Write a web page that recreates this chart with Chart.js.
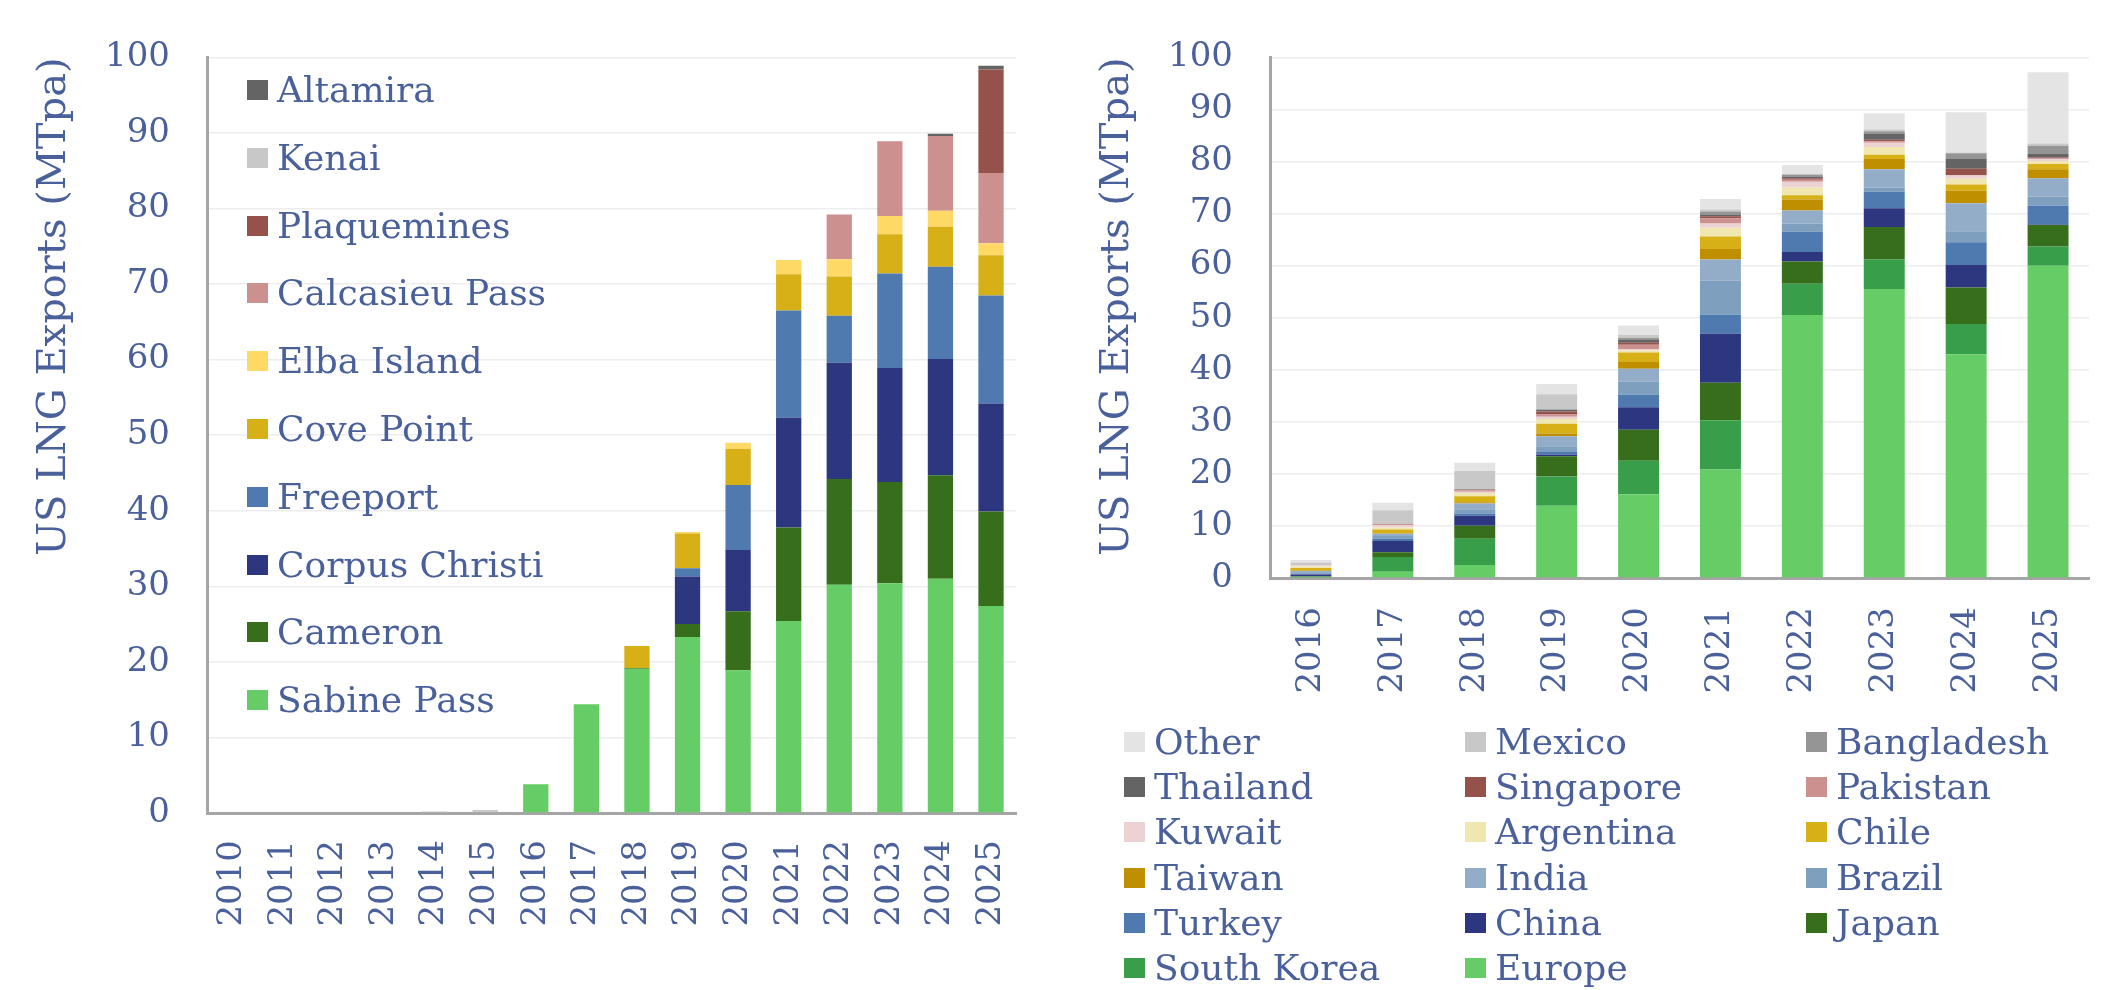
<!DOCTYPE html>
<html lang="en">
  <head>
    <meta charset="UTF-8" />
    <title>US LNG Exports</title>
    <script src="https://cdn.jsdelivr.net/npm/chart.js"></script>
    <style>
      body { margin: 0; background: #fff; }
      #page { position: relative; width: 2119px; height: 990px; overflow: hidden; }
      .legend-text {
        position: absolute;
        font-family: "DejaVu Serif", serif;
        font-size: 36px;
        line-height: 40px;
        color: #4a609b;
        white-space: nowrap;
      }
      .legend-box { position: absolute; width: 21px; height: 20px; }
    </style>
  </head>
  <body>
    <div id="page">
      <canvas id="terminalCanvas" width="1060" height="990" style="position:absolute;left:0;top:0"></canvas>
      <canvas id="destCanvas" width="1059" height="990" style="position:absolute;left:1060px;top:0"></canvas>
      <div id="terminalLegend"></div>
      <div id="destLegend"></div>
    </div>
    <script>
      // ---- left chart: exports by terminal (MTpa) ----
      const terminalYears = ["2010", "2011", "2012", "2013", "2014", "2015", "2016", "2017",
                             "2018", "2019", "2020", "2021", "2022", "2023", "2024", "2025"];
      const sabinePass    = [0, 0, 0, 0, 0, 0, 3.8, 14.4, 19.1, 23.3, 18.9, 25.4, 30.2, 30.4, 31.0, 27.4];
      const cameron       = [0, 0, 0, 0, 0, 0, 0, 0, 0.1, 1.7, 7.8, 12.4, 14.0, 13.4, 13.7, 12.5];
      const corpusChristi = [0, 0, 0, 0, 0, 0, 0, 0, 0, 6.3, 8.1, 14.5, 15.4, 15.1, 15.4, 14.3];
      const freeport      = [0, 0, 0, 0, 0, 0, 0, 0, 0, 1.1, 8.6, 14.2, 6.2, 12.5, 12.2, 14.3];
      const covePoint     = [0, 0, 0, 0, 0, 0, 0, 0, 2.9, 4.6, 4.8, 4.8, 5.2, 5.2, 5.3, 5.3];
      const elbaIsland    = [0, 0, 0, 0, 0, 0, 0, 0, 0, 0.2, 0.8, 1.9, 2.3, 2.4, 2.1, 1.6];
      const calcasieuPass = [0, 0, 0, 0, 0, 0, 0, 0, 0, 0, 0, 0, 5.9, 9.9, 9.9, 9.3];
      const plaquemines   = [0, 0, 0, 0, 0, 0, 0, 0, 0, 0, 0, 0, 0, 0, 0, 13.7];
      const kenai         = [0, 0, 0, 0, 0.2, 0.4, 0, 0, 0, 0, 0, 0, 0, 0, 0, 0];
      const altamira      = [0, 0, 0, 0, 0, 0, 0, 0, 0, 0, 0, 0, 0, 0, 0.3, 0.5];

      // ---- right chart: exports by destination (MTpa) ----
      const destYears = ["2016", "2017", "2018", "2019", "2020", "2021", "2022", "2023", "2024", "2025"];
      const europe     = [0.15, 1.2, 2.5, 13.9, 16.1, 20.9, 50.5, 55.5, 43.0, 60.0];
      const southKorea = [0.15, 2.85, 5.05, 5.6, 6.4, 9.4, 6.0, 5.7, 5.8, 3.7];
      const japan      = [0.1, 0.9, 2.5, 3.9, 6.0, 7.2, 4.3, 6.2, 7.0, 4.1];
      const china      = [0.25, 2.15, 1.9, 0.3, 4.3, 9.4, 1.8, 3.6, 4.3, 0.1];
      const turkey     = [0.2, 0.5, 0.45, 0.5, 2.4, 3.7, 3.9, 3.2, 4.4, 3.6];
      const brazil     = [0.25, 0.45, 0.8, 1.1, 2.5, 6.5, 1.6, 0.8, 2.1, 1.8];
      const india      = [0.25, 0.45, 1.1, 1.95, 2.5, 4.1, 2.5, 3.5, 5.4, 3.5];
      const taiwan     = [0.1, 0.1, 0.25, 0.5, 1.3, 2.0, 2.1, 2.0, 2.4, 1.7];
      const chile      = [0.45, 0.7, 1.15, 1.9, 1.8, 2.4, 0.8, 0.8, 1.2, 1.0];
      const argentina  = [0.3, 0.4, 0.65, 0.9, 0.4, 1.7, 1.5, 1.5, 1.1, 0.6];
      const kuwait     = [0.25, 0.45, 0.2, 0.4, 0.3, 0.8, 1.1, 0.8, 0.6, 0.35];
      const pakistan   = [0.05, 0.2, 0.3, 0.45, 0.8, 1.0, 0.4, 0.3, 0.1, 0.15];
      const singapore  = [0, 0, 0.1, 0.6, 0.4, 0.4, 0.3, 0.3, 1.2, 0.15];
      const thailand   = [0, 0, 0.1, 0.3, 0.6, 0.3, 0.3, 1.2, 2.0, 0.8];
      const bangladesh = [0, 0, 0, 0.1, 0.3, 0.6, 0.35, 0.4, 1.0, 1.5];
      const mexico     = [0.5, 2.65, 3.5, 2.9, 0.6, 0.4, 0.2, 0.35, 0.15, 0.4];
      const other      = [0.45, 1.45, 1.6, 1.95, 1.8, 2.0, 1.7, 3.1, 7.7, 13.7];

      const textColor = "#4a609b";
      const axisColor = "#a5a5a5";
      Chart.defaults.font.family = "'DejaVu Serif', serif";
      Chart.defaults.color = textColor;

      function series(label, data, color) {
        return {
          label: label,
          data: data,
          backgroundColor: color,
          borderWidth: 0,
          barPercentage: 0.5,
          categoryPercentage: 1.0,
        };
      }

      function makeOptions(o) {
        return {
          responsive: false,
          animation: false,
          layout: { padding: { top: 50, right: o.rightPad, left: 0, bottom: 0 } },
          plugins: { legend: { display: false }, tooltip: { enabled: false } },
          scales: {
            x: {
              stacked: true,
              grid: { display: false, drawTicks: false },
              border: { color: axisColor, width: 3 },
              ticks: {
                font: { size: 34 },
                color: textColor,
                minRotation: 90,
                maxRotation: 90,
                autoSkip: false,
                padding: o.xPad,
              },
              afterFit: (scale) => { scale.height = o.xHeight; },
            },
            y: {
              stacked: true,
              min: 0,
              max: 100,
              grid: { color: "#ededed", lineWidth: 1.5, drawTicks: false },
              border: { color: axisColor, width: 3 },
              ticks: { stepSize: 10, font: { size: 34 }, color: textColor, padding: 37 },
              title: {
                display: true,
                text: "US LNG Exports (MTpa)",
                font: { size: 40 },
                color: textColor,
                align: "end",
                padding: { top: o.titlePad },
              },
              afterFit: (scale) => { scale.width = o.yWidth; },
            },
          },
        };
      }

      const terminalChart = new Chart(document.getElementById("terminalCanvas"), {
        type: "bar",
        data: {
          labels: terminalYears,
          datasets: [
            series("Sabine Pass", sabinePass, "#66cc66"),
            series("Cameron", cameron, "#366e1c"),
            series("Corpus Christi", corpusChristi, "#2c3780"),
            series("Freeport", freeport, "#4f7aaf"),
            series("Cove Point", covePoint, "#d6b016"),
            series("Elba Island", elbaIsland, "#ffd966"),
            series("Calcasieu Pass", calcasieuPass, "#cc918f"),
            series("Plaquemines", plaquemines, "#94524a"),
            series("Kenai", kenai, "#c8c8c8"),
            series("Altamira", altamira, "#646464"),
          ],
        },
        options: makeOptions({ rightPad: 38, xPad: 27, xHeight: 177, yWidth: 207, titlePad: 31 }),
      });

      const destChart = new Chart(document.getElementById("destCanvas"), {
        type: "bar",
        data: {
          labels: destYears,
          datasets: [
            series("Europe", europe, "#66cc66"),
            series("South Korea", southKorea, "#389e4a"),
            series("Japan", japan, "#366e1c"),
            series("China", china, "#2c3780"),
            series("Turkey", turkey, "#4f7aaf"),
            series("Brazil", brazil, "#7f9fbf"),
            series("India", india, "#93adc9"),
            series("Taiwan", taiwan, "#bf8f00"),
            series("Chile", chile, "#d6b016"),
            series("Argentina", argentina, "#efe6b0"),
            series("Kuwait", kuwait, "#ecd2d3"),
            series("Pakistan", pakistan, "#cc918f"),
            series("Singapore", singapore, "#94524a"),
            series("Thailand", thailand, "#646464"),
            series("Bangladesh", bangladesh, "#959595"),
            series("Mexico", mexico, "#c8c8c8"),
            series("Other", other, "#e4e4e4"),
          ],
        },
        options: makeOptions({ rightPad: 23, xPad: 29, xHeight: 412, yWidth: 210, titlePad: 34 }),
      });

      // legends are laid out as html, newest series first like the original
      function buildLegend(chart, holderId, spot) {
        const holder = document.getElementById(holderId);
        const items = chart.data.datasets.slice().reverse();
        items.forEach((ds, i) => {
          const [x, cy] = spot(i);
          const box = document.createElement("div");
          box.className = "legend-box";
          box.style.left = x + "px";
          box.style.top = Math.round(cy - 10) + "px";
          box.style.background = ds.backgroundColor;
          const txt = document.createElement("div");
          txt.className = "legend-text";
          txt.style.left = x + 30 + "px";
          txt.style.top = Math.round(cy - 20) + "px";
          txt.textContent = ds.label;
          holder.appendChild(box);
          holder.appendChild(txt);
        });
      }

      buildLegend(terminalChart, "terminalLegend", (i) => [247, 90 + i * 67.8]);
      const destCols = [1124, 1465, 1806];
      buildLegend(destChart, "destLegend", (i) => [destCols[i % 3], 742 + Math.floor(i / 3) * 45.2]);
    </script>
  </body>
</html>
